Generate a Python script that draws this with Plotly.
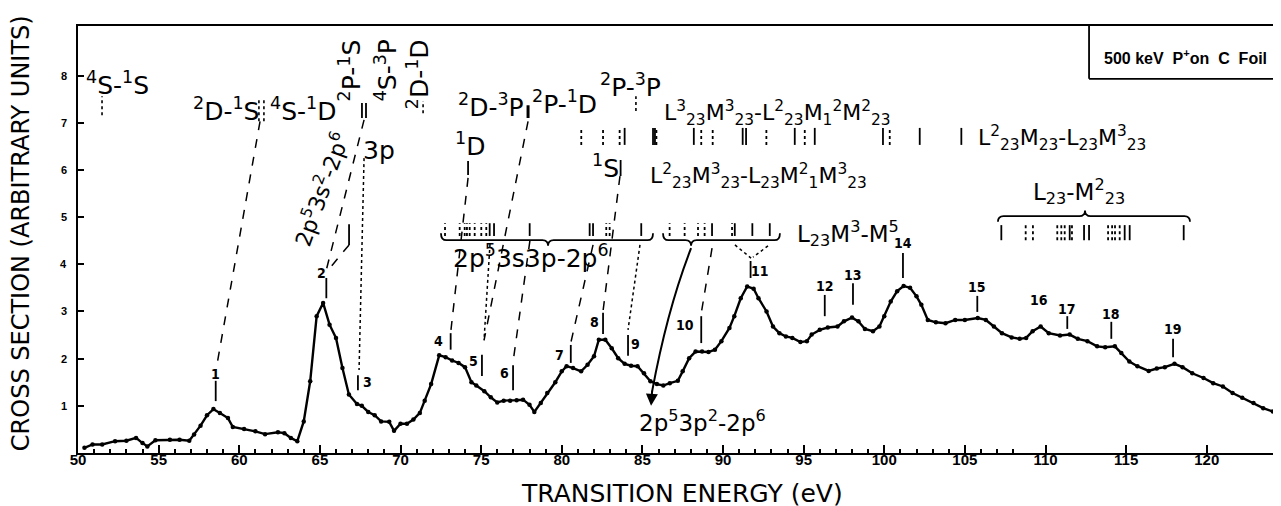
import plotly.graph_objects as go

# ---------------- data ----------------
energy = [50.4, 50.9, 51.5, 52.3, 53.0, 53.6, 54.0, 54.3, 54.8, 55.7,
          56.3, 56.9, 57.2, 57.6, 58.0, 58.4, 58.8, 59.3, 59.6, 60.3,
          61.0, 61.6, 62.4, 62.8, 63.2, 63.6, 64.0, 64.4, 64.8, 65.2,
          65.6, 66.0, 66.4, 66.8, 67.3, 67.6, 68.0, 68.4, 68.8, 69.3,
          69.6, 70.0, 70.4, 70.8, 71.2, 71.5, 71.9, 72.4, 72.8, 73.2,
          73.6, 74.0, 74.4, 74.7, 75.2, 75.6, 76.0, 76.4, 76.8, 77.2,
          77.6, 78.0, 78.3, 78.7, 79.1, 79.6, 80.0, 80.3, 80.7, 81.2,
          81.6, 82.0, 82.3, 82.7, 83.1, 83.5, 83.9, 84.3, 84.7, 85.1,
          85.5, 85.9, 86.3, 86.7, 87.2, 87.5, 87.9, 88.3, 88.7, 89.1,
          89.5, 89.9, 90.4, 90.7, 91.1, 91.5, 91.9, 92.2, 92.7, 93.1,
          93.5, 93.9, 94.3, 94.8, 95.2, 95.5, 96.0, 96.5, 97.1, 97.5,
          98.0, 98.4, 98.8, 99.3, 99.7, 100.0, 100.4, 100.8, 101.2, 101.6,
          102.0, 102.3, 102.7, 103.2, 103.8, 104.4, 105.0, 105.8, 106.3, 106.8,
          107.3, 107.9, 108.4, 108.8, 109.2, 109.7, 110.2, 110.9, 111.5, 112.0,
          112.6, 113.2, 113.7, 114.3, 114.7, 115.2, 115.7, 116.4, 116.9, 117.4,
          118.0, 118.5, 119.1, 119.8, 120.4, 121.0, 121.6, 122.2, 122.9, 123.5,
          124.1, 124.7, 125.2]
cross_section = [0.11, 0.18, 0.18, 0.25, 0.26, 0.32, 0.21, 0.14, 0.27, 0.28,
                 0.28, 0.26, 0.39, 0.58, 0.80, 0.93, 0.85, 0.74, 0.55, 0.51,
                 0.46, 0.40, 0.44, 0.42, 0.32, 0.25, 0.67, 1.52, 2.90, 3.18,
                 2.72, 2.44, 1.80, 1.24, 1.04, 1.00, 0.87, 0.80, 0.67, 0.66,
                 0.47, 0.62, 0.62, 0.71, 0.85, 1.11, 1.46, 2.07, 2.03, 1.96,
                 1.91, 1.82, 1.50, 1.43, 1.31, 1.18, 1.07, 1.11, 1.11, 1.12,
                 1.13, 1.02, 0.87, 1.06, 1.27, 1.50, 1.73, 1.84, 1.80, 1.73,
                 1.87, 2.05, 2.40, 2.40, 2.22, 2.01, 1.89, 1.85, 1.84, 1.69,
                 1.52, 1.46, 1.43, 1.48, 1.53, 1.73, 2.01, 2.15, 2.15, 2.14,
                 2.19, 2.37, 2.65, 2.90, 3.28, 3.53, 3.48, 3.28, 3.00, 2.68,
                 2.54, 2.47, 2.44, 2.35, 2.37, 2.51, 2.61, 2.66, 2.68, 2.79,
                 2.87, 2.79, 2.63, 2.58, 2.68, 2.90, 3.21, 3.43, 3.54, 3.50,
                 3.32, 3.14, 2.82, 2.77, 2.75, 2.82, 2.82, 2.86, 2.82, 2.68,
                 2.54, 2.45, 2.42, 2.44, 2.58, 2.68, 2.54, 2.49, 2.51, 2.42,
                 2.37, 2.26, 2.24, 2.26, 2.12, 1.94, 1.84, 1.74, 1.79, 1.82,
                 1.89, 1.82, 1.69, 1.59, 1.48, 1.41, 1.27, 1.17, 1.06, 0.95,
                 0.88, 0.85, 0.83]

x_ticks = [50, 55, 60, 65, 70, 75, 80, 85, 90, 95, 100, 105, 110, 115, 120]
x_minor_ticks = [v for v in range(51, 109) if v % 5 != 0]
y_ticks = [1, 2, 3, 4, 5, 6, 7, 8]

# numbered peaks: id, energy, tick top, tick bottom, label x, label y
peak_ids = ["1", "2", "3", "4", "5", "6", "7", "8", "9", "10",
            "11", "12", "13", "14", "15", "16", "17", "18", "19"]
peak_energy = [58.54, 65.40, 67.36, 73.11, 75.05, 76.98, 80.56, 82.56, 84.11, 88.65,
               91.71, 96.31, 98.06, 101.16, 105.77, None, 111.35, 114.08, 117.91]
peak_tick_top = [1.53, 3.71, 1.65, 2.54, 2.08, 1.86, 2.29, 2.97, 2.50, 2.90,
                 4.07, 3.35, 3.60, 4.24, 3.33, None, 2.90, 2.78, 2.42]
peak_tick_bot = [1.10, 3.28, 1.33, 2.19, 1.63, 1.33, 1.91, 2.52, 2.06, 2.33,
                 3.71, 2.90, 3.14, 3.71, 2.99, None, 2.63, 2.42, 2.03]
peak_label_x = [58.54, 65.09, 67.98, 72.37, 74.54, 76.42, 79.87, 82.00, 84.60, 87.64,
                92.29, 96.31, 98.06, 101.16, 105.77, 109.60, 111.35, 114.08, 117.91]
peak_label_y = [1.68, 3.81, 1.50, 2.37, 1.95, 1.69, 2.08, 2.78, 2.31, 2.71,
                3.86, 3.55, 3.78, 4.46, 3.51, 3.24, 3.06, 2.95, 2.62]

# transition-line markers (energies, eV)
row_solid = [83.90, 85.66, 85.78, 88.19, 91.22, 91.43, 94.45, 95.69, 99.92, 102.20, 104.78]
row_dotted = [81.21, 82.56, 83.59, 85.87, 88.65, 89.36, 92.69, 95.07, 100.34]
b1_solid = [75.53, 75.80, 78.01, 81.73, 81.94, 84.93]
b1_dotted = [72.76, 73.67, 73.98, 74.12, 74.29, 74.60, 75.01, 75.32, 82.76, 82.97]
b2_solid = [89.32, 90.73, 91.82, 92.90]
b2_dotted = [86.69, 87.62, 88.45, 88.86, 90.56]
b3_solid = [107.26, 111.50, 112.39, 112.70, 114.91, 115.22, 118.57]
b3_dotted = [108.77, 109.22, 110.73, 110.98, 111.19, 111.64, 113.88, 114.13, 114.31, 114.60]

FONT = "DejaVu Sans"
BIG = 25
fig = go.Figure()

fig.add_trace(go.Scatter(
    x=energy, y=cross_section, mode="lines+markers",
    line=dict(color="black", width=2.4),
    marker=dict(color="black", size=4.5),
    showlegend=False, hoverinfo="skip"))

shapes = []
annotations = []


def seg(x0, y0, x1, y1, dash="solid", width=1.6):
    shapes.append(dict(type="line", xref="x", yref="y", x0=x0, y0=y0, x1=x1, y1=y1,
                       line=dict(color="black", width=width, dash=dash)))


def txt(x, y, s, size=BIG, angle=0, bold=False, family=FONT, xanchor="center", yanchor="middle"):
    annotations.append(dict(x=x, y=y, xref="x", yref="y", text=s, showarrow=False,
                            textangle=angle, xanchor=xanchor, yanchor=yanchor,
                            font=dict(family=family, size=size, color="black",
                                      weight="bold" if bold else "normal")))


# peak ticks and numbers
for pid, px_, t, b, lx, ly in zip(peak_ids, peak_energy, peak_tick_top, peak_tick_bot,
                                  peak_label_x, peak_label_y):
    if px_ is not None:
        seg(px_, b, px_, t, width=1.8)
    txt(lx, ly, pid, size=14, bold=True, family="DejaVu Sans Condensed, DejaVu Sans")

# transition marker groups
for xs, y0, y1, dash in [(row_solid, 6.53, 6.89, "solid"), (row_dotted, 6.53, 6.89, "dot"),
                         (b1_solid, 4.60, 4.87, "solid"), (b1_dotted, 4.60, 4.87, "dot"),
                         (b2_solid, 4.60, 4.87, "solid"), (b2_dotted, 4.60, 4.87, "dot"),
                         (b3_solid, 4.51, 4.83, "solid"), (b3_dotted, 4.51, 4.83, "dot")]:
    for xv in xs:
        seg(xv, y0, xv, y1, dash=dash, width=1.8)

# single transition ticks near the term labels
seg(51.49, 7.16, 51.49, 7.56, "dot")
seg(61.22, 7.03, 61.22, 7.52, "dot")
seg(61.53, 7.03, 61.53, 7.52, "dot")
seg(67.61, 7.10, 67.61, 7.42, width=1.8)
seg(67.86, 7.10, 67.86, 7.42, width=1.8)
seg(71.40, 7.20, 71.40, 7.46, "dot")
seg(77.91, 7.10, 77.91, 7.37, width=3)
seg(84.60, 7.25, 84.60, 7.56, "dot")
seg(74.19, 5.89, 74.19, 6.19, width=1.8)
seg(83.65, 5.87, 83.65, 6.21, width=1.8)
seg(66.81, 4.41, 66.81, 4.85, width=1.8)

# connector lines to peaks
for c in [(61.29, 7.03, 58.56, 1.76, "dash"), (67.74, 7.06, 65.40, 3.88, "dash"),
          (66.81, 4.41, 65.47, 3.86, "dash"), (67.74, 6.25, 67.43, 1.76, "dot"),
          (74.19, 5.83, 73.13, 2.61, "dash"), (77.91, 7.03, 75.18, 2.39, "dash"),
          (75.55, 4.43, 75.18, 2.39, "dot"), (78.03, 4.51, 76.98, 1.93, "dash"),
          (81.94, 4.41, 80.57, 2.35, "dash"), (83.61, 5.87, 82.56, 3.01, "dash"),
          (84.85, 4.41, 84.11, 2.61, "dot"), (89.32, 4.34, 88.64, 2.94, "dash"),
          (90.74, 4.41, 91.74, 4.13, "dot"), (92.79, 4.39, 91.86, 4.15, "dot")]:
    seg(c[0], c[1], c[2], c[3], dash=c[4], width=1.5)

# braces
brace_line = dict(color="black", width=1.8)
shapes.append(dict(type="path", xref="x", yref="y", line=brace_line,
                   path="M 72.51,4.66 Q 72.51,4.51 72.85,4.51 L 78.80,4.51 Q 79.15,4.51 79.15,4.39 "
                        "Q 79.15,4.51 79.50,4.51 L 85.32,4.51 Q 85.66,4.51 85.66,4.66"))
shapes.append(dict(type="path", xref="x", yref="y", line=brace_line,
                   path="M 86.28,4.66 Q 86.28,4.51 86.62,4.51 L 87.67,4.51 Q 88.02,4.51 88.02,4.39 "
                        "Q 88.02,4.51 88.37,4.51 L 93.19,4.51 Q 93.53,4.51 93.53,4.66"))
shapes.append(dict(type="path", xref="x", yref="y", line=brace_line,
                   path="M 107.05,4.90 Q 107.05,5.02 107.40,5.02 L 112.10,5.02 Q 112.45,5.02 112.45,5.14 "
                        "Q 112.45,5.02 112.80,5.02 L 118.61,5.02 Q 118.96,5.02 118.96,4.90"))
# curved arrow to 2p5 3p2 - 2p6
shapes.append(dict(type="path", xref="x", yref="y", line=dict(color="black", width=2),
                   path="M 88.02,4.34 Q 86.55,3.05 85.60,1.30"))
annotations.append(dict(x=85.54, y=1.00, ax=85.61, ay=1.35, xref="x", yref="y",
                        axref="x", ayref="y", text="", showarrow=True,
                        arrowhead=2, arrowsize=1.2, arrowwidth=2, arrowcolor="black"))

# legend-like box top right
shapes.append(dict(type="line", xref="x", yref="y", x0=112.70, y0=9.05, x1=112.70, y1=7.93,
                   line=dict(color="black", width=1.8)))
shapes.append(dict(type="line", xref="x", yref="y", x0=112.70, y0=7.93, x1=125.1, y1=7.93,
                   line=dict(color="black", width=1.8)))
txt(118.70, 8.40, "500 keV  P<sup>+</sup>on  C  Foil", size=16, bold=True, family="Liberation Sans")

# term / configuration labels
txt(52.48, 7.84, "<sup>4</sup>S-<sup>1</sup>S")
txt(59.18, 7.27, "<sup>2</sup>D-<sup>1</sup>S")
txt(63.95, 7.27, "<sup>4</sup>S-<sup>1</sup>D")
txt(66.87, 8.11, "<sup>2</sup>P-<sup>1</sup>S", angle=-90)
txt(69.10, 8.11, "<sup>4</sup>S-<sup>3</sup>P", angle=-90)
txt(71.09, 8.03, "<sup>2</sup>D-<sup>1</sup>D", angle=-90)
txt(65.05, 5.60, "2p<sup>5</sup>3s<sup>2</sup>-2p<sup>6</sup>", size=22, angle=-70)
txt(68.65, 6.42, "3p")
txt(75.61, 7.37, "<sup>2</sup>D-<sup>3</sup>P")
txt(80.20, 7.42, "<sup>2</sup>P-<sup>1</sup>D")
txt(84.29, 7.78, "<sup>2</sup>P-<sup>3</sup>P")
txt(74.31, 6.53, "<sup>1</sup>D")
txt(82.74, 6.08, "<sup>1</sup>S")
txt(93.41, 7.20, "L<sup>3</sup><sub>23</sub>M<sup>3</sup><sub>23</sub>-L<sup>2</sup><sub>23</sub>"
                 "M<sub>1</sub><sup>2</sup>M<sup>2</sup><sub>23</sub>", size=22)
txt(111.02, 6.67, "L<sup>2</sup><sub>23</sub>M<sub>23</sub>-L<sub>23</sub>M<sup>3</sup><sub>23</sub>", size=22)
txt(92.17, 5.87, "L<sup>2</sup><sub>23</sub>M<sup>3</sup><sub>23</sub>-L<sub>23</sub>"
                 "M<sup>2</sup><sub>1</sub>M<sup>3</sup><sub>23</sub>", size=22)
txt(78.10, 4.17, "2p<sup>5</sup>3s3p-2p<sup>6</sup>")
txt(97.75, 4.66, "L<sub>23</sub>M<sup>3</sup>-M<sup>5</sup>", size=23)
txt(112.08, 5.55, "L<sub>23</sub>-M<sup>2</sup><sub>23</sub>", size=23)
txt(88.70, 0.68, "2p<sup>5</sup>3p<sup>2</sup>-2p<sup>6</sup>", size=23)

# y tick labels (small, just left of the axis)
for v in y_ticks:
    annotations.append(dict(x=-0.0075, y=v, xref="paper", yref="y", text=str(v),
                            showarrow=False, xanchor="right", yanchor="middle",
                            font=dict(family="Liberation Sans", size=11, color="black",
                                      weight="bold")))

# axis titles
annotations.append(dict(x=-0.047, y=0.515, xref="paper", yref="paper", showarrow=False,
                        xanchor="center", yanchor="middle",
                        text="CROSS SECTION (ARBITRARY UNITS)", textangle=-90,
                        font=dict(family=FONT, size=24, color="black")))
annotations.append(dict(x=0.499, y=-0.095, xref="paper", yref="paper", showarrow=False,
                        xanchor="center", yanchor="middle",
                        text="TRANSITION ENERGY (eV)",
                        font=dict(family=FONT, size=25, color="black")))

fig.update_layout(
    width=1281, height=506,
    margin=dict(l=70, r=0, t=18, b=61),
    paper_bgcolor="white", plot_bgcolor="white",
    shapes=shapes, annotations=annotations,
    showlegend=False,
)
fig.update_xaxes(range=[50, 125.1], tickvals=x_ticks, ticktext=[str(v) for v in x_ticks],
                 ticks="inside", ticklen=8, tickwidth=2, tickcolor="black",
                 minor=dict(tickvals=x_minor_ticks, ticks="inside", ticklen=4, tickwidth=1.5,
                            tickcolor="black", showgrid=False),
                 showline=True, linewidth=2, linecolor="black", mirror=True,
                 showgrid=False, zeroline=False, ticklabelstandoff=-8,
                 tickfont=dict(family="Liberation Sans", size=15, color="black", weight="bold"))
fig.update_yaxes(range=[0, 9.05], tickvals=y_ticks, showticklabels=False,
                 ticks="inside", ticklen=6, tickwidth=1.5, tickcolor="black",
                 showline=True, linewidth=2, linecolor="black",
                 showgrid=False, zeroline=False)

fig.write_html("out.html")
